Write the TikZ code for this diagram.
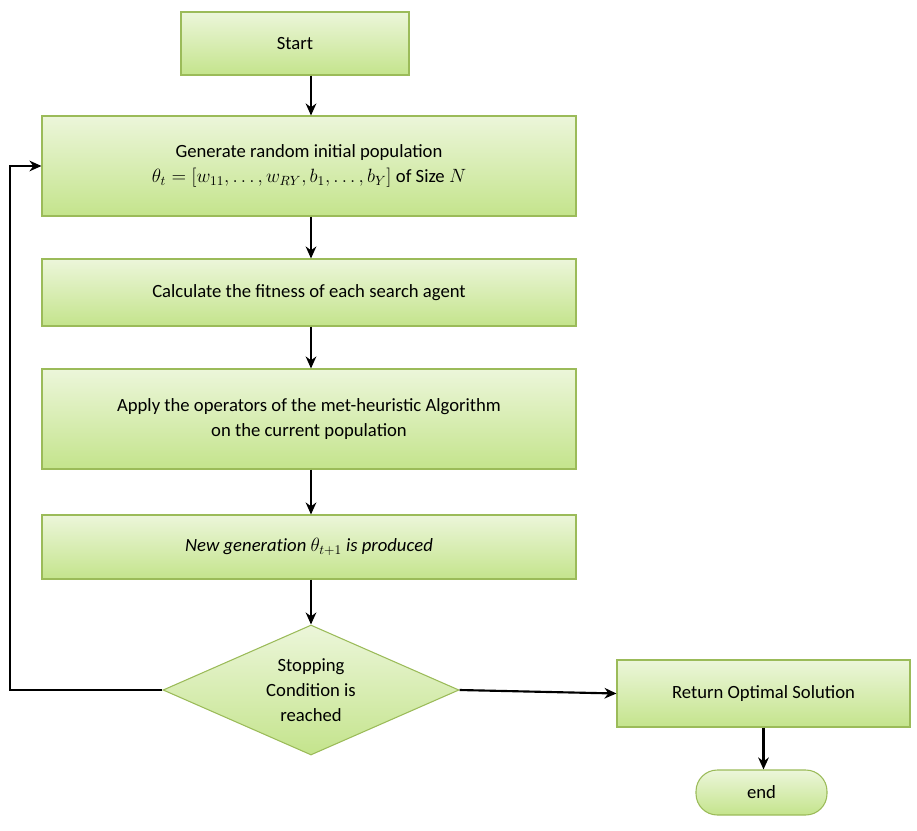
\documentclass[tikz,border=0pt]{standalone}
\usepackage{fontspec}
\setmainfont{Carlito}
\usetikzlibrary{shapes.geometric,arrows.meta}
\definecolor{bd}{RGB}{155,187,89}
\definecolor{ftop}{RGB}{236,246,218}
\definecolor{fbot}{RGB}{196,228,140}
\begin{document}
\begin{tikzpicture}[x=0.75pt,y=-0.75pt,
  box/.style={draw=bd,line width=0.8pt,top color=ftop,bottom color=fbot,align=center,font=\fontsize{14}{19}\selectfont,inner sep=0pt},
  arr/.style={line width=1.6pt,-{Stealth[length=9pt,width=8pt]}}]
\useasboundingbox (0,0) rectangle (917,831);
\node[box,minimum width=228*0.75pt,minimum height=63*0.75pt] (start) at (295,43.5) {Start};
\node[box,minimum width=534*0.75pt,minimum height=100*0.75pt] (gen) at (309,166) {Generate random initial population\\ $\theta_t=[w_{11},\ldots,w_{RY},b_1,\ldots,b_Y]$ of Size $N$};
\node[box,minimum width=534*0.75pt,minimum height=67*0.75pt] (calc) at (309,292.5) {Calculate the fitness of each search agent};
\node[box,minimum width=534*0.75pt,minimum height=100*0.75pt] (app) at (309,419) {Apply the operators of the met-heuristic Algorithm\\ on the current population};
\node[box,minimum width=534*0.75pt,minimum height=64*0.75pt] (new) at (309,547) {$\mathit{New\ generation}\ \theta_{t+1}\ \mathit{is\ produced}$};
\node[box,diamond,aspect=2.28,minimum width=296*0.75pt,minimum height=130*0.75pt,align=center] (dec) at (311,690) {Stopping\\Condition is\\reached};
\node[box,minimum width=293*0.75pt,minimum height=67*0.75pt] (ret) at (763.5,693.5) {Return Optimal Solution};
\node[box,rounded corners=16pt,minimum width=131*0.75pt,minimum height=45*0.75pt] (end) at (761.5,792.5) {end};
\coordinate (c1) at (10,690);
\coordinate (c2) at (10,166);
\draw[arr] (start.south -| 311,0) -- (gen.north -| 311,0);
\draw[arr] (gen.south -| 311,0) -- (calc.north -| 311,0);
\draw[arr] (calc.south -| 311,0) -- (app.north -| 311,0);
\draw[arr] (app.south -| 311,0) -- (new.north -| 311,0);
\draw[arr] (new.south -| 311,0) -- (dec.north);
\draw[arr] (dec.east) -- (ret.west);
\draw[arr] (ret.south) -- (end.north -| ret.south);
\draw[arr] (dec.west) -- (c1) -- (c2) -- (gen.west);
\end{tikzpicture}
\end{document}
